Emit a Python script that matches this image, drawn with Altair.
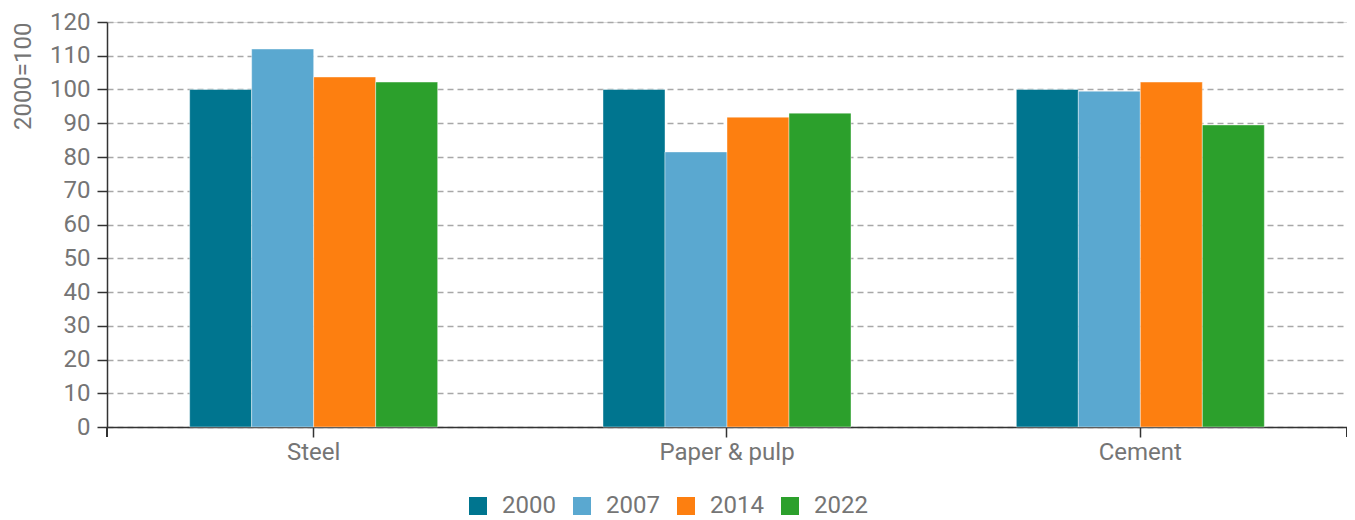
import altair as alt
import pandas as pd

categories = ["Steel", "Paper & pulp", "Cement"]
years = ["2000", "2007", "2014", "2022"]
steel = [100.0, 112.0, 103.7, 102.2]
paper_pulp = [100.0, 81.5, 91.8, 93.0]
cement = [100.0, 99.5, 102.2, 89.5]
colors = ["#00758f", "#5aa8d0", "#fd7f10", "#2ca02c"]
y_ticks = list(range(0, 121, 10))

rows = []
for cat, vals in zip(categories, [steel, paper_pulp, cement]):
    for yr, v in zip(years, vals):
        rows.append({"category": cat, "year": yr, "value": v})
df = pd.DataFrame(rows)

W, H = 1240, 405
FONT = "Roboto"
GREY = "#757575"

bars = alt.Chart(df).mark_bar(stroke="white", strokeWidth=0.7, strokeOpacity=0.6).encode(
    x=alt.X("category:N", sort=categories,
            scale=alt.Scale(paddingInner=0.4, paddingOuter=0.2),
            axis=alt.Axis(title=None, labelAngle=0, labelFontSize=24, labelColor=GREY,
                          labelFont=FONT, labelPadding=3, tickSize=10, tickColor="#333",
                          tickWidth=1.5, domainColor="#333", domainWidth=1.5, grid=False)),
    xOffset=alt.XOffset("year:N", sort=years,
                        scale=alt.Scale(paddingInner=0, paddingOuter=0)),
    y=alt.Y("value:Q",
            scale=alt.Scale(domain=[0, 120], nice=False),
            axis=alt.Axis(title="2000=100", values=y_ticks, labelFontSize=24,
                          labelColor=GREY, labelFont=FONT, labelPadding=7,
                          tickSize=10, tickColor="#333", tickWidth=1.5,
                          domainColor="#333", domainWidth=1.5,
                          grid=True, gridColor="#a8a8a8", gridDash=[6, 4], gridWidth=1.4,
                          titleFontSize=24, titleFont=FONT, titleColor=GREY,
                          titleFontWeight="normal", titleAngle=-90,
                          titleAlign="right", titleBaseline="top",
                          titleX=-96, titleY=0)),
    color=alt.Color("year:N", sort=years,
                    scale=alt.Scale(domain=years, range=colors),
                    legend=alt.Legend(title=None, orient="none", direction="horizontal",
                                      legendX=359, legendY=472,
                                      symbolType="square", symbolSize=324,
                                      symbolStrokeWidth=0, labelFontSize=24,
                                      labelFont=FONT, labelColor=GREY,
                                      labelOffset=12, columnPadding=14)),
)

end_left = alt.Chart(df).mark_rule(color="#333", strokeWidth=1.5).encode(
    x=alt.value(0), y=alt.value(H), y2=alt.value(H + 10))
end_right = alt.Chart(df).mark_rule(color="#333", strokeWidth=1.5).encode(
    x=alt.value(W), y=alt.value(H), y2=alt.value(H + 10))

chart = alt.layer(bars, end_left, end_right).properties(
    width=W, height=H,
    autosize=alt.AutoSizeParams(type="none"),
    padding={"left": 99, "top": 14, "right": 0, "bottom": 95},
).configure_view(stroke=None).configure(font=FONT)

chart.save("out.html", embed_options={"renderer": "svg", "actions": False})
